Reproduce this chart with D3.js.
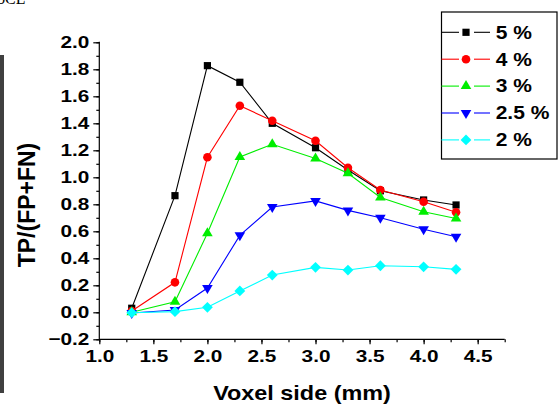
<!DOCTYPE html>
<html>
<head>
<meta charset="utf-8">
<script src="https://cdn.jsdelivr.net/npm/d3@7"></script>
<style>
	html, body { margin: 0; padding: 0; background: #fff; }
	svg { display: block; }
	text { font-family: "Liberation Sans", Arial, sans-serif; font-weight: bold; fill: #000; }
	.axis path, .axis line { stroke: #000; stroke-width: 1.2; }
</style>
</head>
<body>
<div id="chart"></div>
<script>
	'use strict';

	// voxel side (mm)
	var voxelSides = [1.3, 1.7, 2.0, 2.3, 2.6, 3.0, 3.3, 3.6, 4.0, 4.3];

	// TP/(FP+FN) for each threshold
	var series5 = [0.03, 0.864, 1.827, 1.704, 1.40, 1.219, 1.054, 0.90, 0.832, 0.795];
	var series4 = [0.01, 0.222, 1.148, 1.53, 1.419, 1.271, 1.071, 0.906, 0.819, 0.741];
	var series3 = [0.0, 0.078, 0.585, 1.15, 1.245, 1.14, 1.03, 0.85, 0.745, 0.695];
	var series25 = [-0.005, 0.017, 0.18, 0.57, 0.78, 0.825, 0.755, 0.70, 0.615, 0.56];
	var series2 = [-0.003, 0.005, 0.037, 0.158, 0.276, 0.333, 0.313, 0.345, 0.337, 0.318];

	var seriesNames = ['5 %', '4 %', '3 %', '2.5 %', '2 %'];
	var seriesColors = ['#000000', '#ff0000', '#00ee00', '#0000ff', '#00ffff'];
	var seriesMarkers = ['square', 'circle', 'triangleUp', 'triangleDown', 'diamond'];

	var xTicks = [1.0, 1.5, 2.0, 2.5, 3.0, 3.5, 4.0, 4.5];
	var yTicks = [-0.2, 0.0, 0.2, 0.4, 0.6, 0.8, 1.0, 1.2, 1.4, 1.6, 1.8, 2.0];

	(function() {
		var W = 558, H = 408,
			STRETCH = 1.2,
			plotLeft = 99.3, plotRight = 504.7, plotTop = 42.3, plotBottom = 339.3;

		var allSeries = [series5, series4, series3, series25, series2];

		var svg = d3.select('#chart').append('svg')
			.attr('width', W)
			.attr('height', H);

		var x = d3.scaleLinear().domain([1.0, 4.75]).range([plotLeft, plotRight]);
		var y = d3.scaleLinear().domain([-0.2, 2.0]).range([plotBottom, plotTop]);

		// leftover bits of the page around the figure
		svg.append('rect')
			.attr('x', 0).attr('y', 55)
			.attr('width', 4).attr('height', 338)
			.attr('fill', '#404040');
		svg.append('text')
			.attr('x', -2).attr('y', 4)
			.style('font-family', '"Liberation Serif", serif')
			.style('font-weight', 'normal')
			.style('font-size', '16px')
			.text('ɔCL');

		var minorX = d3.range(1.0, 4.76, 0.25);
		var minorY = d3.range(-0.2, 2.01, 0.1);

		// minor ticks
		svg.append('g').attr('class', 'axis')
			.attr('transform', 'translate(0,' + plotBottom + ')')
			.call(d3.axisBottom(x).tickValues(minorX).tickSize(3).tickFormat(''))
			.select('.domain').remove();
		svg.append('g').attr('class', 'axis')
			.attr('transform', 'translate(' + plotLeft + ',0)')
			.call(d3.axisLeft(y).tickValues(minorY).tickSize(3).tickFormat(''))
			.select('.domain').remove();

		// major ticks and labels
		var xAxis = svg.append('g').attr('class', 'axis')
			.attr('transform', 'translate(0,' + plotBottom + ')')
			.call(d3.axisBottom(x).tickValues(xTicks).tickSize(5).tickSizeOuter(0)
				.tickPadding(5.5).tickFormat(d3.format('.1f')));
		xAxis.selectAll('text')
			.style('font-size', '17.3px')
			.attr('transform', 'scale(' + STRETCH + ',1)');

		var yAxis = svg.append('g').attr('class', 'axis')
			.attr('transform', 'translate(' + plotLeft + ',0)')
			.call(d3.axisLeft(y).tickValues(yTicks).tickSize(6).tickSizeOuter(0)
				.tickPadding(2.4).tickFormat(d3.format('.1f')));
		yAxis.selectAll('text')
			.style('font-size', '17.3px')
			.attr('transform', 'scale(' + STRETCH + ',1)');
		xAxis.select('.domain').attr('d', 'M' + plotLeft + ',0H' + plotRight);
		yAxis.select('.domain').attr('d', 'M0,' + plotBottom + 'V' + (plotTop - 0.5));

		// axis titles
		svg.append('text')
			.attr('transform', 'translate(' + ((plotLeft + plotRight) / 2) + ',400) scale(' + STRETCH + ',1)')
			.attr('text-anchor', 'middle')
			.style('font-size', '19.5px')
			.text('Voxel side (mm)');
		svg.append('text')
			.attr('transform', 'translate(35,205) rotate(-90)')
			.attr('text-anchor', 'middle')
			.style('font-size', '23px')
			.text('TP/(FP+FN)');

		// markers
		var markerPath = function(kind) {
			if (kind === 'square') {
				return 'M-3.6,-3.6H3.6V3.6H-3.6Z';
			}
			if (kind === 'circle') {
				return d3.symbol().type(d3.symbolCircle).size(Math.PI * 4.3 * 4.3)();
			}
			if (kind === 'triangleUp') {
				return 'M0,-6L5.3,3L-5.3,3Z';
			}
			if (kind === 'triangleDown') {
				return 'M0,6L5.3,-3L-5.3,-3Z';
			}
			return 'M0,-5.4L5.4,0L0,5.4L-5.4,0Z';
		};

		var line = d3.line()
			.x(function(d) { return x(d.x); })
			.y(function(d) { return y(d.y); });

		allSeries.forEach(function(values, i) {
			var pts = values.map(function(v, j) {
				return { x: voxelSides[j], y: v };
			});
			var g = svg.append('g');
			g.append('path')
				.attr('d', line(pts))
				.attr('fill', 'none')
				.attr('stroke', seriesColors[i])
				.attr('stroke-width', 1.1);
			g.selectAll('path.marker')
				.data(pts)
				.enter()
				.append('path')
				.attr('class', 'marker')
				.attr('d', markerPath(seriesMarkers[i]))
				.attr('transform', function(d) {
					return 'translate(' + x(d.x) + ',' + y(d.y) + ')';
				})
				.attr('fill', seriesColors[i]);
		});

		// legend
		var legend = svg.append('g');
		legend.append('rect')
			.attr('x', 441.5).attr('y', 12)
			.attr('width', 115.5).attr('height', 147)
			.attr('fill', '#fff')
			.attr('stroke', '#000')
			.attr('stroke-width', 1.2);

		var rows = legend.selectAll('g.row')
			.data(seriesNames)
			.enter()
			.append('g')
			.attr('class', 'row')
			.attr('transform', function(d, i) {
				return 'translate(0,' + (32.3 + i * 26.9) + ')';
			});

		rows.append('line')
			.attr('x1', 441.5).attr('x2', 459)
			.attr('stroke', function(d, i) { return seriesColors[i]; })
			.attr('stroke-width', 1.1);
		rows.append('line')
			.attr('x1', 474).attr('x2', 490)
			.attr('stroke', function(d, i) { return seriesColors[i]; })
			.attr('stroke-width', 1.1);
		rows.append('path')
			.attr('d', function(d, i) { return markerPath(seriesMarkers[i]); })
			.attr('transform', 'translate(466,0)')
			.attr('fill', function(d, i) { return seriesColors[i]; });
		rows.append('text')
			.attr('transform', 'translate(495.7,6.3) scale(' + STRETCH + ',1)')
			.style('font-size', '17.5px')
			.text(function(d) { return d; });
	})();
</script>
</body>
</html>
